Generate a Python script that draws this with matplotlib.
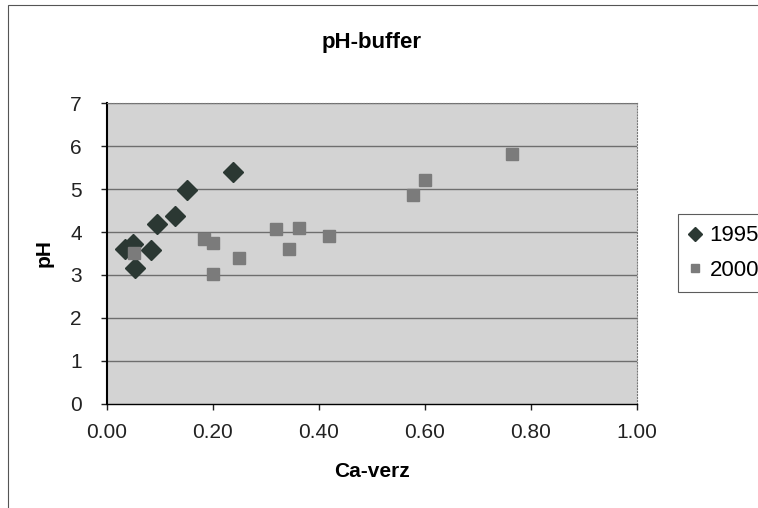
import numpy as np
import matplotlib.pyplot as plt
from matplotlib.patches import Rectangle

plt.rcParams['font.family'] = ['Liberation Sans', 'DejaVu Sans']

# data
x_1995 = [0.034, 0.049, 0.053, 0.083, 0.094, 0.128, 0.151, 0.238]
y_1995 = [3.60, 3.72, 3.16, 3.58, 4.19, 4.37, 4.98, 5.40]

x_2000 = [0.051, 0.183, 0.200, 0.200, 0.249, 0.320, 0.343, 0.362, 0.419, 0.577, 0.600, 0.764]
y_2000 = [3.50, 3.83, 3.74, 3.02, 3.39, 4.07, 3.60, 4.10, 3.91, 4.86, 5.21, 5.81]

xticks = [0.0, 0.2, 0.4, 0.6, 0.8, 1.0]
yticks = [0, 1, 2, 3, 4, 5, 6, 7]

fig = plt.figure(figsize=(7.58, 5.08), dpi=100)
ax = fig.add_axes([0.141, 0.205, 0.699, 0.592])

# chart-area border like the excel frame (cut off right and bottom)
fig.patches.append(Rectangle((0.011, -0.2), 1.2, 1.19, transform=fig.transFigure,
                             fill=False, edgecolor='#555555', linewidth=0.8))

ax.set_facecolor('#d3d3d3')
for y in yticks[1:]:
    ax.axhline(y, color='#6e6e6e', linewidth=1.0, zorder=1)

ax.plot(x_1995, y_1995, 'D', color='#2b3833', markersize=10, label='1995', zorder=3)
ax.plot(x_2000, y_2000, 's', color='#7b7b7b', markersize=9, label='2000', zorder=3)

ax.set_xlim(0, 1)
ax.set_ylim(0, 7)
ax.set_xticks(xticks)
ax.set_xticklabels(['%.2f' % v for v in xticks])
ax.set_yticks(yticks)
ax.tick_params(axis='both', labelsize=15, direction='out', length=4, width=1, colors='#222222')
ax.tick_params(axis='x', pad=10)
ax.tick_params(axis='y', pad=14)
for s in ['top', 'right']:
    ax.spines[s].set_color('#777777')
    ax.spines[s].set_linestyle(':')
ax.spines['left'].set_linewidth(1.5)
ax.spines['bottom'].set_linewidth(1.0)

ax.set_title('pH-buffer', fontsize=16, fontweight='bold', pad=40)
ax.set_xlabel('Ca-verz', fontsize=15, fontweight='bold', labelpad=14)
ax.set_ylabel('pH', fontsize=15, fontweight='bold', labelpad=12)

leg = fig.legend(loc='center left', bbox_to_anchor=(0.895, 0.502), fontsize=16,
                 frameon=True, fancybox=False, edgecolor='#333333', handlelength=0.5,
                 handletextpad=0.4, borderpad=0.5, labelspacing=0.6, markerscale=0.7,
                 borderaxespad=0)
leg.get_frame().set_linewidth(0.8)

plt.savefig('out.png', dpi=100)
